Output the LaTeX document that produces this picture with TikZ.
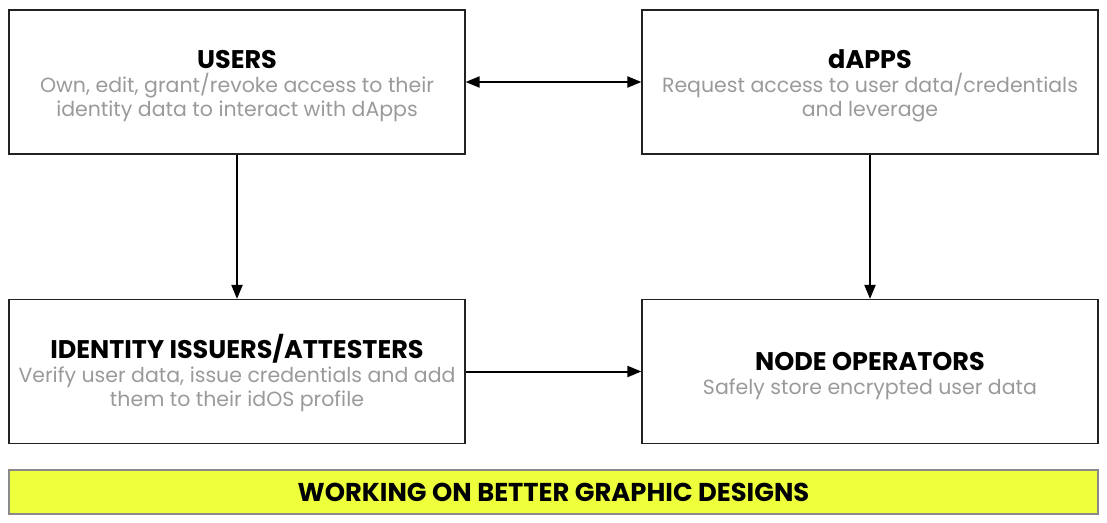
\documentclass[tikz,border=0pt]{standalone}
\usepackage{fontspec}
\setmainfont{Poppins}
\usetikzlibrary{arrows.meta}
\definecolor{subgray}{HTML}{9A9A9A}
\definecolor{boxline}{HTML}{222222}
\definecolor{barfill}{HTML}{EEFF3C}
\definecolor{barline}{HTML}{8A8A8A}
\tikzset{
  card/.style={draw=boxline, line width=1.2pt, minimum width=456pt, minimum height=144pt, inner sep=0pt},
  cardtext/.style={inner sep=0pt, align=center, font=\fontsize{20.5}{24}\selectfont},
  link/.style={line width=2pt, -{Triangle[length=14pt,width=11pt]}},
}
\newcommand{\cardtitle}[1]{{\fontsize{25.5}{26}\selectfont\bfseries #1}}
\begin{document}
\begin{tikzpicture}[x=1pt,y=-1pt]
\useasboundingbox (0,0) rectangle (1107,522);
\node[card] (users) at (237,82) {};
\node[card] (dapps) at (870,82) {};
\node[card] (issuers) at (237,371.5) {};
\node[card] (nodes) at (870,371.5) {};
\node[cardtext] (userstext) at ([yshift=-4pt]users.center) {\cardtitle{USERS}\\\textcolor{subgray}{Own, edit, grant/revoke access to their}\\\textcolor{subgray}{identity data to interact with dApps}};
\node[cardtext] (dappstext) at ([yshift=-4pt]dapps.center) {\cardtitle{dAPPS}\\\textcolor{subgray}{Request access to user data/credentials}\\\textcolor{subgray}{and leverage}};
\node[cardtext] (issuerstext) at ([yshift=-2pt]issuers.center) {\cardtitle{IDENTITY ISSUERS/ATTESTERS}\\\textcolor{subgray}{Verify user data, issue credentials and add}\\\textcolor{subgray}{them to their idOS profile}};
\node[cardtext] (nodestext) at ([yshift=-4.5pt]nodes.center) {\cardtitle{NODE OPERATORS}\\\textcolor{subgray}{Safely store encrypted user data}};
\node[draw=barline, fill=barfill, line width=1.2pt, minimum width=1089pt, minimum height=44pt, inner sep=0pt, font=\fontsize{25.8}{28}\selectfont\bfseries] (bar) at (553.5,492) {WORKING ON BETTER GRAPHIC DESIGNS};
\draw[link, {Triangle[length=14pt,width=11pt]}-{Triangle[length=14pt,width=11pt]}] (users.east) -- (dapps.west);
\draw[link] (users.south) -- (issuers.north);
\draw[link] (dapps.south) -- (nodes.north);
\draw[link] (issuers.east) -- (nodes.west);
\end{tikzpicture}
\end{document}
